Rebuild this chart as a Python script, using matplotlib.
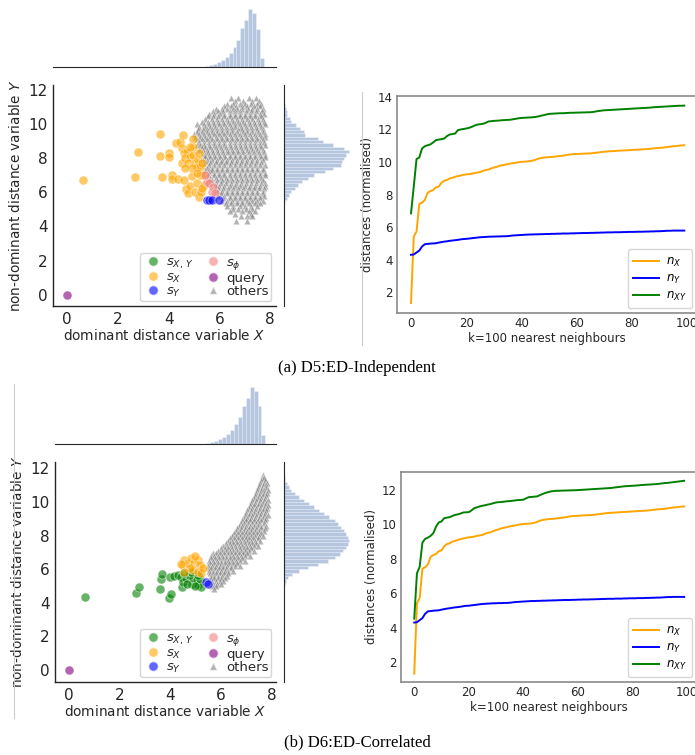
import numpy as np
import matplotlib
matplotlib.use("Agg")
import matplotlib.pyplot as plt
from matplotlib.lines import Line2D

# ---------------- data ----------------
k = list(range(100))

n_x = [1.32, 5.41, 5.72, 7.42, 7.50, 7.66, 8.10, 8.21, 8.27, 8.44,
       8.48, 8.72, 8.85, 8.89, 8.99, 9.03, 9.09, 9.13, 9.17, 9.21,
       9.24, 9.25, 9.28, 9.32, 9.35, 9.38, 9.45, 9.50, 9.53, 9.60,
       9.66, 9.70, 9.76, 9.80, 9.83, 9.87, 9.90, 9.93, 9.96, 9.99,
       10.01, 10.02, 10.03, 10.05, 10.08, 10.13, 10.20, 10.24, 10.27, 10.29,
       10.30, 10.31, 10.33, 10.35, 10.37, 10.39, 10.42, 10.45, 10.47, 10.48,
       10.49, 10.50, 10.51, 10.52, 10.52, 10.53, 10.55, 10.57, 10.59, 10.61,
       10.63, 10.65, 10.66, 10.67, 10.68, 10.69, 10.70, 10.71, 10.72, 10.73,
       10.74, 10.75, 10.76, 10.77, 10.78, 10.79, 10.80, 10.82, 10.84, 10.86,
       10.87, 10.88, 10.90, 10.92, 10.95, 10.97, 10.98, 11.00, 11.02, 11.03]

n_y = [4.29, 4.31, 4.43, 4.55, 4.80, 4.94, 4.96, 4.98, 4.99, 5.00,
       5.04, 5.07, 5.10, 5.12, 5.15, 5.17, 5.19, 5.21, 5.24, 5.26,
       5.27, 5.29, 5.31, 5.33, 5.35, 5.37, 5.38, 5.39, 5.40, 5.41,
       5.41, 5.42, 5.42, 5.43, 5.43, 5.44, 5.46, 5.48, 5.49, 5.50,
       5.51, 5.52, 5.53, 5.54, 5.54, 5.55, 5.55, 5.56, 5.56, 5.57,
       5.57, 5.58, 5.58, 5.59, 5.59, 5.60, 5.60, 5.60, 5.61, 5.61,
       5.62, 5.62, 5.63, 5.63, 5.63, 5.64, 5.64, 5.65, 5.65, 5.66,
       5.66, 5.67, 5.67, 5.67, 5.68, 5.68, 5.68, 5.69, 5.69, 5.70,
       5.70, 5.70, 5.71, 5.71, 5.71, 5.72, 5.72, 5.73, 5.73, 5.74,
       5.74, 5.75, 5.76, 5.77, 5.77, 5.78, 5.78, 5.78, 5.78, 5.78]

n_xy_indep = [6.84, 8.48, 10.18, 10.28, 10.83, 10.97, 11.03, 11.08, 11.20, 11.34,
              11.38, 11.40, 11.44, 11.59, 11.69, 11.72, 11.75, 11.96, 12.00, 12.03,
              12.06, 12.10, 12.16, 12.24, 12.30, 12.32, 12.35, 12.40, 12.49, 12.51,
              12.53, 12.54, 12.55, 12.57, 12.58, 12.59, 12.60, 12.63, 12.66, 12.69,
              12.71, 12.72, 12.73, 12.74, 12.75, 12.77, 12.80, 12.84, 12.88, 12.92,
              12.96, 12.97, 12.98, 12.99, 13.00, 13.00, 13.01, 13.02, 13.03, 13.03,
              13.04, 13.04, 13.05, 13.05, 13.06, 13.06, 13.08, 13.11, 13.14, 13.16,
              13.18, 13.19, 13.20, 13.21, 13.22, 13.23, 13.24, 13.25, 13.26, 13.27,
              13.28, 13.29, 13.30, 13.31, 13.32, 13.33, 13.34, 13.35, 13.37, 13.38,
              13.39, 13.40, 13.41, 13.42, 13.43, 13.44, 13.45, 13.46, 13.46, 13.47]

n_xy_corr = [4.52, 7.15, 7.53, 8.93, 9.15, 9.22, 9.32, 9.48, 9.86, 10.10,
             10.16, 10.35, 10.38, 10.41, 10.48, 10.54, 10.57, 10.62, 10.68, 10.69,
             10.70, 10.80, 10.93, 10.98, 11.03, 11.07, 11.10, 11.14, 11.17, 11.22,
             11.26, 11.28, 11.29, 11.31, 11.33, 11.34, 11.36, 11.38, 11.40, 11.41,
             11.42, 11.50, 11.57, 11.58, 11.60, 11.61, 11.68, 11.75, 11.81, 11.86,
             11.90, 11.92, 11.94, 11.94, 11.95, 11.95, 11.96, 11.96, 11.97, 11.97,
             11.98, 11.99, 12.00, 12.01, 12.02, 12.03, 12.04, 12.05, 12.06, 12.07,
             12.08, 12.09, 12.10, 12.12, 12.14, 12.16, 12.18, 12.20, 12.21, 12.22,
             12.23, 12.24, 12.25, 12.27, 12.28, 12.29, 12.30, 12.31, 12.32, 12.33,
             12.35, 12.37, 12.39, 12.40, 12.42, 12.44, 12.46, 12.48, 12.50, 12.52]

# (a) independent: coloured groups
a_sx_x = [0.64, 2.69, 2.78, 3.67, 3.67, 3.76, 4.03, 4.03, 4.15, 4.15, 4.28, 4.38, 4.45,
          4.51, 4.56, 4.61, 4.68, 4.78, 4.84, 4.91, 4.95, 4.98, 5.04, 5.11, 5.19, 5.24,
          5.28, 4.51, 4.60, 4.71, 4.65, 4.84, 4.97, 4.78, 5.04, 5.17, 5.10, 5.24, 5.30,
          4.91, 4.65, 5.37, 5.21, 4.84, 5.10, 5.39, 5.30]
a_sx_y = [6.72, 6.88, 8.38, 9.42, 8.13, 6.92, 8.32, 8.05, 7.03, 6.76, 8.91, 6.76, 8.97,
          7.70, 9.36, 6.72, 6.18, 5.98, 6.37, 6.95, 8.68, 9.11, 6.04, 6.56, 5.75, 7.00,
          6.04, 8.58, 8.29, 8.38, 7.99, 8.09, 8.19, 7.70, 7.70, 7.90, 7.50, 7.50, 7.70,
          7.41, 7.41, 7.02, 8.29, 8.68, 7.12, 6.43, 6.24]
a_sphi_x = [5.50, 5.60, 5.70, 5.76, 5.82, 5.43]
a_sphi_y = [6.62, 6.57, 6.04, 6.33, 5.94, 7.02]
a_sy_x = [5.53, 5.60, 5.70, 5.98]
a_sy_y = [5.55, 5.55, 5.55, 5.55]
a_sxy_x = []
a_sxy_y = []

# (a) others, row by row: (y, [x values])
a_others = [
    (11.5, [6.45, 6.75, 7.15, 7.45]),
    (11.35, [6.6, 6.95, 7.3, 7.55]),
    (11.2, [6.3, 6.55, 6.8, 7.0, 7.25, 7.5, 7.65]),
    (11.05, [6.2, 6.45, 6.65, 6.9, 7.1, 7.35, 7.6]),
    (10.9, [5.85, 6.1, 6.3, 6.52, 6.7, 6.9, 7.12, 7.3, 7.5, 7.7]),
    (10.75, [5.75, 5.95, 6.15, 6.4, 6.6, 6.8, 7.05, 7.25, 7.45, 7.68]),
    (10.6, [5.6, 5.8, 6.02, 6.2, 6.4, 6.6, 6.82, 7.0, 7.2, 7.4, 7.6, 7.75]),
    (10.45, [5.55, 5.75, 5.95, 6.2, 6.4, 6.6, 6.8, 7.0, 7.2, 7.4, 7.65]),
    (10.3, [5.45, 5.7, 5.9, 6.1, 6.3, 6.5, 6.7, 6.9, 7.1, 7.3, 7.52, 7.7]),
    (10.15, [5.3, 5.55, 5.75, 5.95, 6.15, 6.35, 6.55, 6.75, 6.95, 7.15, 7.35, 7.55, 7.75]),
    (10.0, [5.1, 5.4, 5.6, 5.8, 6.0, 6.2, 6.42, 6.6, 6.8, 7.0, 7.2, 7.4, 7.6, 7.8]),
    (9.85, [5.2, 5.45, 5.62, 5.82, 6.05, 6.25, 6.45, 6.62, 6.85, 7.05, 7.25, 7.45, 7.65]),
    (9.7, [5.15, 5.35, 5.5, 5.7, 5.9, 6.1, 6.3, 6.5, 6.72, 6.9, 7.1, 7.3, 7.5, 7.7]),
    (9.55, [5.1, 5.3, 5.5, 5.7, 5.92, 6.1, 6.32, 6.5, 6.7, 6.92, 7.1, 7.3, 7.52, 7.72]),
    (9.4, [5.0, 5.2, 5.4, 5.6, 5.8, 6.0, 6.2, 6.4, 6.6, 6.8, 7.0, 7.2, 7.4, 7.6, 7.8]),
    (9.25, [5.05, 5.25, 5.45, 5.65, 5.85, 6.05, 6.25, 6.45, 6.65, 6.85, 7.05, 7.25, 7.45, 7.65, 7.8]),
    (9.1, [5.1, 5.3, 5.5, 5.7, 5.9, 6.1, 6.3, 6.5, 6.7, 6.9, 7.1, 7.3, 7.5, 7.7]),
    (8.95, [5.2, 5.4, 5.6, 5.8, 6.0, 6.2, 6.4, 6.6, 6.8, 7.0, 7.2, 7.4, 7.6, 7.75]),
    (8.8, [5.12, 5.25, 5.4, 5.6, 5.8, 6.0, 6.2, 6.4, 6.6, 6.8, 7.0, 7.2, 7.4, 7.6, 7.8]),
    (8.65, [5.3, 5.45, 5.65, 5.85, 6.05, 6.25, 6.45, 6.65, 6.85, 7.05, 7.25, 7.45, 7.65]),
    (8.5, [5.2, 5.35, 5.5, 5.7, 5.9, 6.1, 6.3, 6.5, 6.7, 6.9, 7.1, 7.3, 7.5, 7.7]),
    (8.35, [5.4, 5.55, 5.75, 5.95, 6.15, 6.35, 6.55, 6.75, 6.95, 7.15, 7.35, 7.55, 7.75]),
    (8.2, [5.35, 5.45, 5.6, 5.8, 6.0, 6.2, 6.4, 6.6, 6.8, 7.0, 7.2, 7.4, 7.6, 7.8]),
    (8.05, [5.45, 5.62, 5.82, 6.02, 6.22, 6.42, 6.62, 6.82, 7.02, 7.22, 7.42, 7.62, 7.78]),
    (7.9, [5.35, 5.5, 5.7, 5.9, 6.1, 6.3, 6.5, 6.7, 6.9, 7.1, 7.3, 7.5, 7.7]),
    (7.75, [5.48, 5.65, 5.85, 6.05, 6.25, 6.45, 6.65, 6.85, 7.05, 7.25, 7.45, 7.65]),
    (7.6, [5.4, 5.6, 5.8, 6.0, 6.2, 6.4, 6.6, 6.8, 7.0, 7.2, 7.4, 7.6, 7.8]),
    (7.45, [5.52, 5.7, 5.9, 6.1, 6.3, 6.5, 6.7, 6.9, 7.1, 7.3, 7.5, 7.7]),
    (7.3, [5.45, 5.6, 5.72, 5.9, 6.1, 6.3, 6.5, 6.7, 6.9, 7.1, 7.3, 7.5, 7.7]),
    (7.15, [5.6, 5.8, 6.0, 6.2, 6.4, 6.6, 6.8, 7.0, 7.2, 7.4, 7.6, 7.78]),
    (7.0, [5.55, 5.8, 6.0, 6.2, 6.4, 6.6, 6.8, 7.0, 7.2, 7.4, 7.6, 7.8]),
    (6.85, [5.65, 5.85, 6.05, 6.25, 6.45, 6.65, 6.85, 7.05, 7.25, 7.45, 7.65]),
    (6.7, [5.7, 5.9, 6.1, 6.3, 6.5, 6.7, 6.9, 7.1, 7.3, 7.5, 7.7]),
    (6.55, [5.85, 6.05, 6.25, 6.45, 6.65, 6.85, 7.05, 7.25, 7.45, 7.65, 7.8]),
    (6.4, [5.85, 6.0, 6.2, 6.4, 6.6, 6.8, 7.0, 7.2, 7.4, 7.6, 7.8]),
    (6.25, [5.95, 6.15, 6.35, 6.55, 6.75, 6.95, 7.15, 7.35, 7.55, 7.75]),
    (6.1, [5.9, 6.1, 6.3, 6.5, 6.7, 6.9, 7.1, 7.3, 7.5, 7.7]),
    (5.95, [6.05, 6.3, 6.5, 6.7, 6.9, 7.1, 7.3, 7.5, 7.7]),
    (5.8, [5.95, 6.2, 6.4, 6.6, 6.8, 7.0, 7.2, 7.4, 7.6, 7.75]),
    (5.65, [6.15, 6.4, 6.6, 6.8, 7.0, 7.2, 7.4, 7.6]),
    (5.5, [6.1, 6.3, 6.5, 6.7, 6.9, 7.1, 7.3, 7.5, 7.7]),
    (5.35, [6.25, 6.45, 6.7, 6.9, 7.15, 7.4, 7.6]),
    (5.2, [6.3, 6.55, 6.8, 7.0, 7.25, 7.5]),
    (5.05, [6.55, 6.75, 7.05, 7.3]),
    (4.9, [6.4, 6.9, 7.15, 7.4]),
    (4.75, [6.6, 7.25]),
    (4.6, [6.85, 7.1, 7.3]),
    (4.3, [6.65, 7.1]),
]

# (b) correlated: coloured groups
b_sxy_x = [0.63, 2.63, 2.78, 3.59, 3.62, 3.69, 3.95, 4.02, 4.00, 4.17, 4.30, 4.43, 4.48,
           4.51, 4.64, 4.75, 4.85, 4.91, 5.04, 5.10, 5.17, 5.20, 5.00, 4.66, 5.10, 4.83, 4.56]
b_sxy_y = [4.33, 4.56, 4.96, 4.80, 5.40, 5.71, 4.27, 4.51, 5.55, 5.60, 5.65, 5.55, 4.96,
           5.25, 5.45, 5.65, 5.15, 5.45, 5.36, 5.06, 5.40, 4.96, 5.00, 5.11, 5.65, 5.85, 5.75]
b_sx_x = [4.50, 4.56, 4.70, 4.83, 4.96, 5.10, 5.17, 4.90, 5.10, 5.22, 4.77, 4.56, 5.30, 4.43, 5.00]
b_sx_y = [6.25, 6.55, 6.40, 6.65, 6.40, 6.55, 6.25, 5.95, 5.85, 5.75, 6.05, 5.85, 6.05, 6.31, 6.80]
b_sy_x = [5.42, 5.49]
b_sy_y = [5.26, 5.11]
b_sphi_x = []
b_sphi_y = []

b_others = [
    (11.6, [7.68]),
    (11.45, [7.65, 7.72]),
    (11.3, [7.6, 7.75]),
    (11.15, [7.55, 7.7, 7.82]),
    (11.0, [7.5, 7.65, 7.8]),
    (10.85, [7.47, 7.62, 7.78]),
    (10.7, [7.42, 7.57, 7.72, 7.85]),
    (10.55, [7.4, 7.55, 7.7, 7.84]),
    (10.4, [7.35, 7.5, 7.65, 7.8]),
    (10.25, [7.3, 7.45, 7.6, 7.75]),
    (10.1, [7.25, 7.4, 7.55, 7.7, 7.85]),
    (9.95, [7.2, 7.35, 7.5, 7.65, 7.8]),
    (9.8, [7.15, 7.3, 7.45, 7.6, 7.75, 7.88]),
    (9.65, [7.1, 7.25, 7.4, 7.55, 7.7, 7.84]),
    (9.5, [7.05, 7.2, 7.35, 7.5, 7.65, 7.8]),
    (9.35, [7.0, 7.15, 7.3, 7.45, 7.6, 7.75]),
    (9.2, [6.95, 7.1, 7.25, 7.4, 7.55, 7.7, 7.85]),
    (9.05, [6.9, 7.05, 7.2, 7.35, 7.5, 7.65, 7.8]),
    (8.9, [6.85, 7.0, 7.15, 7.3, 7.45, 7.6, 7.75]),
    (8.75, [6.78, 6.92, 7.08, 7.22, 7.38, 7.52, 7.7]),
    (8.6, [6.7, 6.85, 7.0, 7.15, 7.3, 7.45, 7.6, 7.8]),
    (8.45, [6.65, 6.8, 6.95, 7.1, 7.25, 7.4, 7.58, 7.75]),
    (8.3, [6.6, 6.75, 6.9, 7.05, 7.2, 7.35, 7.5, 7.7]),
    (8.15, [6.52, 6.68, 6.82, 6.98, 7.12, 7.28, 7.42, 7.6]),
    (8.0, [6.45, 6.6, 6.75, 6.9, 7.05, 7.2, 7.35, 7.5, 7.65]),
    (7.85, [6.38, 6.52, 6.68, 6.82, 6.98, 7.12, 7.28, 7.45]),
    (7.7, [6.3, 6.45, 6.6, 6.75, 6.9, 7.05, 7.2, 7.35, 7.55]),
    (7.55, [6.2, 6.35, 6.5, 6.65, 6.8, 6.95, 7.1, 7.25, 7.4]),
    (7.4, [6.1, 6.25, 6.4, 6.55, 6.7, 6.85, 7.0, 7.15, 7.3, 7.45]),
    (7.25, [6.0, 6.15, 6.3, 6.45, 6.6, 6.75, 6.9, 7.05, 7.2]),
    (7.1, [5.9, 6.05, 6.2, 6.35, 6.5, 6.65, 6.8, 6.95, 7.1, 7.3]),
    (6.95, [5.7, 5.82, 5.98, 6.12, 6.28, 6.42, 6.58, 6.72, 6.88, 7.05]),
    (6.8, [5.6, 5.75, 5.9, 6.05, 6.2, 6.35, 6.5, 6.65, 6.8, 6.95, 7.15]),
    (6.65, [5.62, 5.78, 5.92, 6.08, 6.22, 6.38, 6.52, 6.68, 6.85]),
    (6.5, [5.55, 5.7, 5.85, 6.0, 6.15, 6.3, 6.45, 6.6, 6.75, 6.95]),
    (6.35, [5.58, 5.72, 5.88, 6.02, 6.18, 6.32, 6.48, 6.65]),
    (6.2, [5.5, 5.65, 5.8, 5.95, 6.1, 6.25, 6.4, 6.55, 6.75]),
    (6.05, [5.52, 5.62, 5.78, 5.92, 6.08, 6.22, 6.4]),
    (5.9, [5.55, 5.7, 5.85, 6.0, 6.15, 6.3, 6.5]),
    (5.75, [5.58, 5.68, 5.82, 5.98, 6.12, 6.3]),
    (5.6, [5.6, 5.75, 5.9, 6.05, 6.25]),
    (5.45, [5.62, 5.72, 5.88, 6.02, 6.18]),
    (5.3, [5.65, 5.8, 5.95, 6.1]),
    (5.15, [5.7, 5.85, 6.0]),
    (5.0, [5.65, 5.8]),
    (4.85, [5.72]),
]

# marginal histograms (bar heights)
x_hist_range = (5.43, 7.76)
x_hist_counts = [3, 5, 10, 15, 20, 30, 42, 60, 82, 117, 140, 173, 162, 115, 28]

a_y_hist_range = (5.35, 11.22)
a_y_hist_counts = [4, 8, 14, 22, 32, 42, 55, 72, 90, 125, 148, 175, 178, 182, 190,
                   197, 183, 148, 120, 105, 65, 60, 50, 38, 22, 18, 10, 8, 5, 3]

b_y_hist_range = (5.0, 11.6)
b_y_hist_counts = [3, 6, 12, 25, 45, 70, 100, 130, 150, 165, 175, 185, 190, 192, 190,
                   185, 178, 170, 160, 150, 135, 120, 105, 90, 75, 60, 45, 32, 22, 14,
                   8, 4, 2]

captions = ["(a) D5:ED-Independent", "(b) D6:ED-Correlated"]

# ---------------- drawing ----------------
W, H = 695, 755
fig = plt.figure(figsize=(W / 100, H / 100), dpi=100)
plt.rcParams['font.family'] = ['DejaVu Sans']

dark = '#262626'
hist_col = '#4c72b0'


def box(left, top, right, bottom):
    return [left / W, 1 - bottom / H, (right - left) / W, (bottom - top) / H]


def flatten_rows(rows):
    xs, ys = [], []
    for y, row in rows:
        xs += row
        ys += [y] * len(row)
    return xs, ys


def joint_plot(ax, ax_top, ax_right, groups, others, y_range, y_counts, xlim, ylim):
    ox, oy = flatten_rows(others)
    ax.scatter(ox, oy, marker='^', s=22, color='grey', alpha=0.6,
               edgecolors='white', linewidths=0.4, zorder=2)
    for gx, gy, col in groups:
        ax.scatter(gx, gy, s=42, color=col, alpha=0.6, edgecolors='white',
                   linewidths=0.5, zorder=3)
    ax.scatter([0], [0], s=42, color='purple', alpha=0.6, edgecolors='white',
               linewidths=0.5, zorder=3)
    ax.set_xlim(*xlim)
    ax.set_ylim(*ylim)
    ax.set_xticks([0, 2, 4, 6, 8])
    ax.set_yticks([0, 2, 4, 6, 8, 10, 12])
    ax.tick_params(length=0, labelsize=11, colors=dark, pad=4)
    for s in ['top', 'right']:
        ax.spines[s].set_visible(False)
    for s in ['left', 'bottom']:
        ax.spines[s].set_color(dark)
        ax.spines[s].set_linewidth(1.0)
    ax.set_xlabel('dominant distance variable $X$', fontsize=9.8, color=dark, labelpad=1)
    ax.set_ylabel('non-dominant distance variable $Y$', fontsize=9.8, color=dark, labelpad=4)

    handles = [
        Line2D([], [], marker='o', ls='', color='green', alpha=0.6, mec='white', ms=7),
        Line2D([], [], marker='o', ls='', color='orange', alpha=0.6, mec='white', ms=7),
        Line2D([], [], marker='o', ls='', color='blue', alpha=0.6, mec='white', ms=7),
        Line2D([], [], marker='o', ls='', color='lightcoral', alpha=0.6, mec='white', ms=7),
        Line2D([], [], marker='o', ls='', color='purple', alpha=0.6, mec='white', ms=7),
        Line2D([], [], marker='^', ls='', color='grey', alpha=0.6, mec='white', ms=6),
    ]
    labels = ['$s_{X,\\,Y}$', '$s_X$', '$s_Y$', '$s_\\phi$', 'query', 'others']
    leg = ax.legend(handles, labels, ncol=2, loc='lower right', fontsize=9.5,
                    labelspacing=0.0, handletextpad=0.25, columnspacing=0.7,
                    borderpad=0.2, handlelength=1.5, borderaxespad=0.35,
                    frameon=True, fancybox=True)
    leg.get_frame().set_edgecolor('0.8')
    for t in leg.get_texts():
        t.set_color(dark)

    # top marginal: distribution of X
    xe = np.linspace(x_hist_range[0], x_hist_range[1], len(x_hist_counts) + 1)
    xc = (xe[:-1] + xe[1:]) / 2
    ax_top.hist(xc, bins=xe, weights=x_hist_counts, color=hist_col, alpha=0.4,
                edgecolor='white', linewidth=0.5)
    ax_top.set_xlim(*xlim)
    ax_top.set_ylim(0, max(x_hist_counts) * 1.16)
    ax_top.set_xticks([])
    ax_top.set_yticks([])
    for s in ['top', 'right', 'left']:
        ax_top.spines[s].set_visible(False)
    ax_top.spines['bottom'].set_color(dark)

    # right marginal: distribution of Y
    ye = np.linspace(y_range[0], y_range[1], len(y_counts) + 1)
    yc = (ye[:-1] + ye[1:]) / 2
    ax_right.hist(yc, bins=ye, weights=y_counts, orientation='horizontal',
                  color=hist_col, alpha=0.4, edgecolor='white', linewidth=0.5)
    ax_right.set_ylim(*ylim)
    ax_right.set_xlim(0, max(y_counts) * 1.02)
    ax_right.set_xticks([])
    ax_right.set_yticks([])
    for s in ['top', 'right', 'bottom']:
        ax_right.spines[s].set_visible(False)
    ax_right.spines['left'].set_color(dark)


def line_plot(ax, nxy, xlim, ylim, yticks):
    ax.plot(k, n_x, color='orange', lw=1.4, label='$n_X$')
    ax.plot(k, n_y, color='blue', lw=1.4, label='$n_Y$')
    ax.plot(k, nxy, color='green', lw=1.4, label='$n_{XY}$')
    ax.set_xlim(*xlim)
    ax.set_ylim(*ylim)
    ax.set_xticks([0, 20, 40, 60, 80, 100])
    ax.set_yticks(yticks)
    ax.tick_params(length=0, labelsize=8.5, colors=dark, pad=3)
    for s in ax.spines.values():
        s.set_color('#8a8a8a')
        s.set_linewidth(1.2)
    ax.set_xlabel('k=100 nearest neighbours', fontsize=8.5, color=dark, labelpad=1)
    ax.set_ylabel('distances (normalised)', fontsize=8.5, color=dark, labelpad=3)
    leg = ax.legend(loc='lower right', fontsize=8.5, handlelength=2.2,
                    borderpad=0.45, labelspacing=0.25, handletextpad=0.6,
                    borderaxespad=0.4, fancybox=True)
    leg.get_frame().set_edgecolor('0.8')


# row (a)
ax_j1 = fig.add_axes(box(53, 85, 276, 306))
ax_t1 = fig.add_axes(box(53, 0, 276, 67))
ax_r1 = fig.add_axes(box(284, 85, 350, 306))
joint_plot(ax_j1, ax_t1, ax_r1,
           [(a_sxy_x, a_sxy_y, 'green'), (a_sx_x, a_sx_y, 'orange'),
            (a_sphi_x, a_sphi_y, 'lightcoral'), (a_sy_x, a_sy_y, 'blue')],
           a_others, a_y_hist_range, a_y_hist_counts, (-0.55, 8.23), (-0.66, 12.29))
ax_l1 = fig.add_axes(box(397, 96, 697, 313))
line_plot(ax_l1, n_xy_indep, (-5.07, 103.6), (0.71, 14.06), [2, 4, 6, 8, 10, 12, 14])

# row (b)
ax_j2 = fig.add_axes(box(55, 462, 276, 682))
ax_t2 = fig.add_axes(box(55, 378, 276, 444))
ax_r2 = fig.add_axes(box(284, 462, 350, 682))
joint_plot(ax_j2, ax_t2, ax_r2,
           [(b_sxy_x, b_sxy_y, 'green'), (b_sx_x, b_sx_y, 'orange'),
            (b_sphi_x, b_sphi_y, 'lightcoral'), (b_sy_x, b_sy_y, 'blue')],
           b_others, b_y_hist_range, b_y_hist_counts, (-0.55, 8.18), (-0.71, 12.38))
ax_l2 = fig.add_axes(box(401, 472, 697, 682))
line_plot(ax_l2, n_xy_corr, (-4.85, 103.7), (0.84, 13.03), [2, 4, 6, 8, 10, 12])

# thin image borders visible in the original composite
fig.add_artist(Line2D([362 / W, 362 / W], [1 - 92 / H, 1 - 345 / H], color='0.8', lw=0.8))
fig.add_artist(Line2D([14 / W, 14 / W], [1 - 384 / H, 1 - 718 / H], color='0.8', lw=0.8))

# captions
fig.text(357 / W, 1 - 368 / H, captions[0], ha='center', va='center',
         fontsize=12, family='Liberation Serif', color='black')
fig.text(357 / W, 1 - 742 / H, captions[1], ha='center', va='center',
         fontsize=12, family='Liberation Serif', color='black')

fig.savefig('out.png', dpi=100)
